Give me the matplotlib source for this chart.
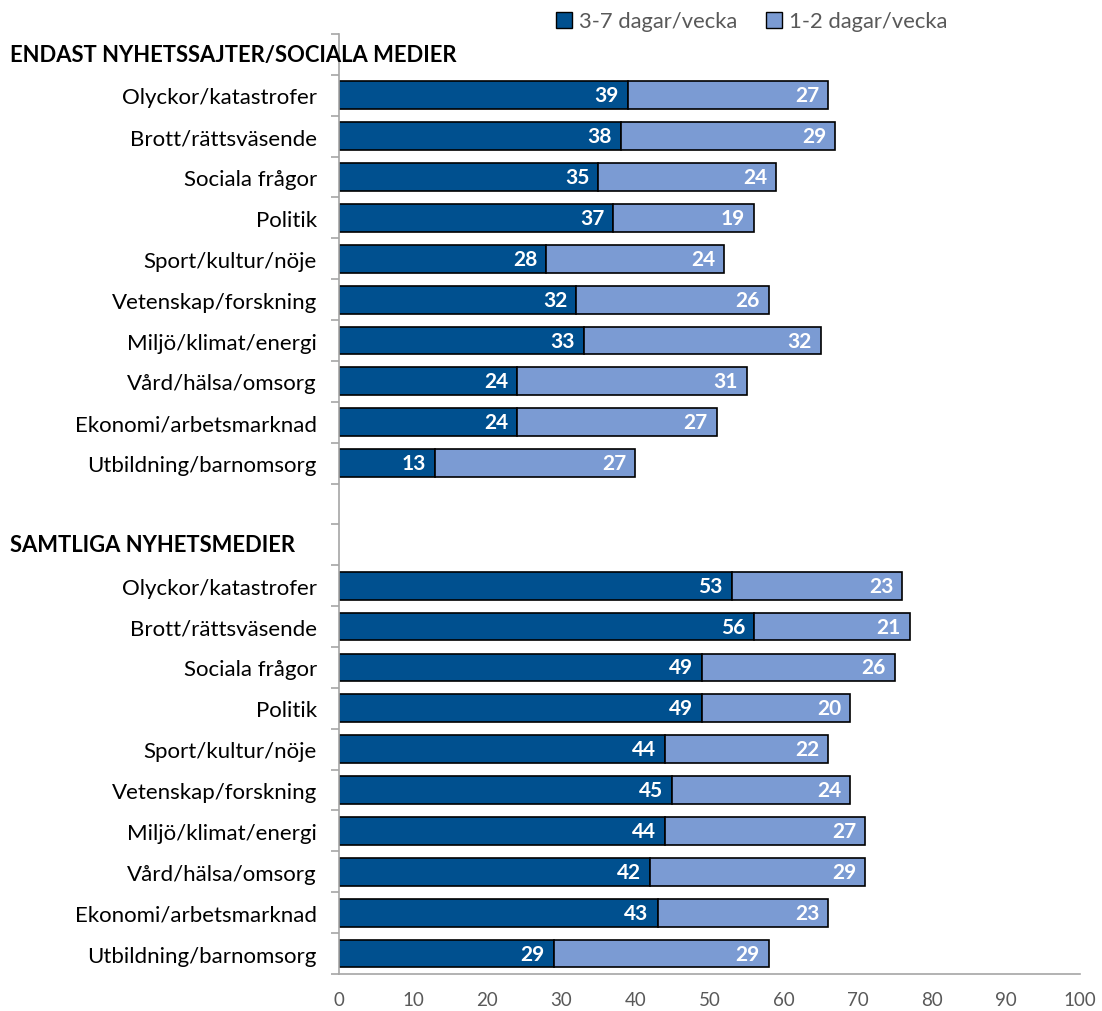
import numpy as np
import matplotlib.pyplot as plt
from matplotlib.patches import Patch

plt.rcParams['font.family'] = ['Lato', 'DejaVu Sans']

categories = ['Olyckor/katastrofer', 'Brott/rättsväsende', 'Sociala frågor', 'Politik',
              'Sport/kultur/nöje', 'Vetenskap/forskning', 'Miljö/klimat/energi',
              'Vård/hälsa/omsorg', 'Ekonomi/arbetsmarknad', 'Utbildning/barnomsorg']
headers = ['ENDAST NYHETSSAJTER/SOCIALA MEDIER', 'SAMTLIGA NYHETSMEDIER']
legend_labels = ['3-7 dagar/vecka', '1-2 dagar/vecka']

# endast nyhetssajter/sociala medier
online_high = [39, 38, 35, 37, 28, 32, 33, 24, 24, 13]
online_low = [27, 29, 24, 19, 24, 26, 32, 31, 27, 27]
# samtliga nyhetsmedier
all_high = [53, 56, 49, 49, 44, 45, 44, 42, 43, 29]
all_low = [23, 21, 26, 20, 22, 24, 27, 29, 23, 29]

dark = '#00508f'
light = '#7b9bd3'
gray = '#595959'

fig = plt.figure(figsize=(11.02, 10.12), dpi=100)
ax = fig.add_axes([0.3076, 0.0366, 0.6724, 0.9288])

# row layout: header, 10 rows, blank, header, 10 rows (top to bottom)
n_rows = 23
pos1 = np.arange(1, 11)
pos2 = np.arange(13, 23)
hdr_pos = [0, 12]

def draw_group(pos, high, low):
    b1 = ax.barh(pos, high, height=0.68, color=dark, edgecolor='black', linewidth=1.2)
    b2 = ax.barh(pos, low, left=high, height=0.68, color=light, edgecolor='black', linewidth=1.2)
    for bars, vals in ((b1, high), (b2, low)):
        for b, v in zip(bars, vals):
            ax.text(b.get_x() + b.get_width() - 1.2, b.get_y() + b.get_height() / 2, str(v),
                    ha='right', va='center', color='white', fontsize=15, fontweight='bold')

draw_group(pos1, online_high, online_low)
draw_group(pos2, all_high, all_low)

ax.set_ylim(n_rows - 0.5, -0.5)
ax.set_xlim(0, 100)
ax.set_xticks(range(0, 101, 10))
ax.tick_params(axis='x', length=0, labelsize=13.5, labelcolor=gray, pad=12)

ax.set_yticks(list(pos1) + list(pos2))
ax.set_yticklabels(categories + categories, fontsize=16)
ax.tick_params(axis='y', which='major', length=0, pad=16)
ax.set_yticks(np.arange(-0.5, n_rows, 1), minor=True)
ax.tick_params(axis='y', which='minor', length=6, color='#a6a6a6', width=1.2)

for p, h in zip(hdr_pos, headers):
    ax.text(-329 / 741 * 100, p, h, ha='left', va='center', fontsize=15.8, fontweight='bold')

for s in ['top', 'right']:
    ax.spines[s].set_visible(False)
for s in ['left', 'bottom']:
    ax.spines[s].set_color('#a6a6a6')
    ax.spines[s].set_linewidth(1.2)

handles = [Patch(facecolor=dark, edgecolor='black'), Patch(facecolor=light, edgecolor='black')]
leg = fig.legend(handles, legend_labels, loc='center', bbox_to_anchor=(0.682, 0.978), ncol=2,
                 frameon=False, fontsize=15.8, handlelength=0.75, handleheight=0.75,
                 handletextpad=0.3, columnspacing=1.3)
for t in leg.get_texts():
    t.set_color(gray)

fig.savefig('out.png', dpi=100)
